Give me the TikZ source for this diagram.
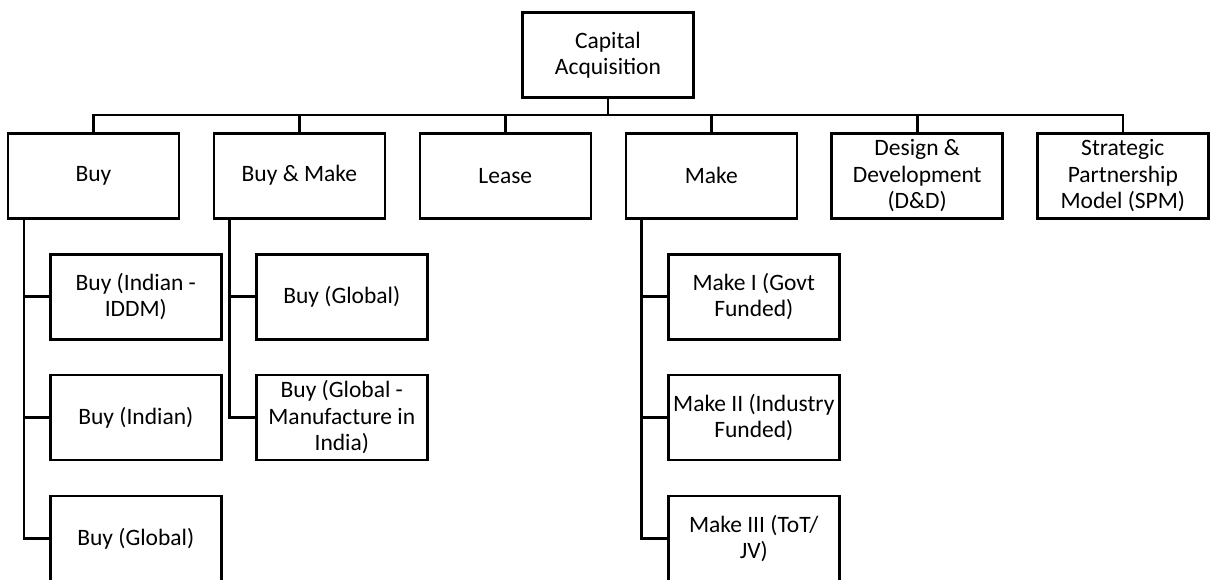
\documentclass[tikz,border=0pt]{standalone}
\usepackage{fontspec}
\setmainfont{Carlito}
\usetikzlibrary{calc}
\begin{document}
\begin{tikzpicture}[x=1pt,y=-1pt,
  box/.style={draw, line width=2.6pt, rectangle, minimum width=171pt, minimum height=85pt, align=center, inner sep=0pt, font=\fontsize{23.5}{26.5}\selectfont},
  conn/.style={line width=2.6pt}]
\useasboundingbox (0,0) rectangle (1211,579);
\clip (0,0) rectangle (1211,579);
% root
\node[box] (root) at (608,55.2) {Capital\\Acquisition};
% level 1
\node[box] (buy)  at (93.4,175.7) {Buy};
\node[box] (bm)   at (299.4,175.7) {Buy \& Make};
\node[box] (lease) at (505.3,175.7) {Lease};
\node[box] (make) at (711.3,175.7) {Make};
\node[box] (dd)   at (917.2,175.7) {Design \&\\Development\\(D\&D)};
\node[box] (spm)  at (1122.8,175.7) {Strategic\\Partnership\\Model (SPM)};
% level 2
\node[box] (b1) at (135.8,296.7) {Buy (Indian -\\IDDM)};
\node[box] (b2) at (135.8,417.5) {Buy (Indian)};
\node[box] (b3) at (135.8,538.3) {Buy (Global)};
\node[box] (m1) at (341.8,296.7) {Buy (Global)};
\node[box] (m2) at (341.8,417.5) {Buy (Global -\\Manufacture in\\India)};
\node[box] (k1) at (753.8,296.7) {Make I (Govt\\Funded)};
\node[box] (k2) at (753.8,417.5) {Make II (Industry\\Funded)};
\node[box] (k3) at (753.8,538.3) {Make III (ToT/\\JV)};
% bus
\coordinate (bus) at (0,115);
\foreach \c in {buy,bm,lease,make,dd,spm}{
  \draw[conn] (root.south) -- (root.south |- bus) -| (\c.north);
}
% sub-trees
\foreach \c in {b1,b2,b3}{
  \draw[conn] ($(buy.south west)+(17.3,0)$) |- (\c.west);
}
\foreach \c in {m1,m2}{
  \draw[conn] ($(bm.south west)+(17,0)$) |- (\c.west);
}
\foreach \c in {k1,k2,k3}{
  \draw[conn] ($(make.south west)+(16.7,0)$) |- (\c.west);
}
\end{tikzpicture}
\end{document}
